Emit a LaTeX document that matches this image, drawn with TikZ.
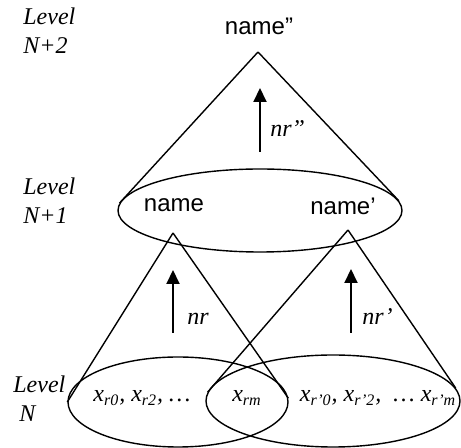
\documentclass[tikz,border=0pt]{standalone}
\usepackage{fontspec}
\setmainfont{Liberation Serif}
\setsansfont{Liberation Sans}
\usetikzlibrary{shapes.geometric, arrows.meta}

\begin{document}
\begin{tikzpicture}[
  x=0.5pt, y=-0.5pt,
  ring/.style={ellipse, draw=black, line width=0.7pt, inner sep=0pt},
  cone/.style={line width=0.7pt},
  arr/.style={-{Triangle[length=7pt, width=6.5pt]}, line width=1pt},
  nm/.style={font=\sffamily\fontsize{12}{14}\selectfont, inner sep=0pt},
  lbl/.style={font=\itshape\fontsize{12}{14}\selectfont, inner sep=0pt},
  lvl/.style={font=\itshape\fontsize{12}{14.5}\selectfont, align=left,
              inner sep=0pt, anchor=north west}
]
\useasboundingbox (0,0) rectangle (461,448);

% level N+2
\node[lvl] (lv2) at (23,7) {Level\\N+2};
\node[nm, anchor=base] (top) at (259,35) {name”};
\coordinate (apex) at (258,52);

% level N+1
\node[lvl] (lv1) at (23,177) {Level\\N+1};
\node[ring, minimum width=142pt, minimum height=41.5pt] (mid) at (260,210.5) {};
\node[nm, anchor=base] (nm)  at (174,212) {name};
\node[nm, anchor=base] (nmp) at (343,215) {name’};
\coordinate (apexl) at (173,233);
\coordinate (apexr) at (348,230);

\draw[cone] (apex) -- (mid.177);
\draw[cone] (apex) -- (mid.4);

\coordinate (u2) at (260,152);
\coordinate (t2) at (260,88);
\draw[arr] (u2) -- (t2);
\node[lbl, anchor=base west] (nr2) at (270,137) {nr”};

% level N
\node[lvl] (lv0) at (13,375) {Level\\\hspace*{3pt}N};
\node[ring, minimum width=110pt, minimum height=45pt] (lft) at (178,402) {};
\node[ring, minimum width=127pt, minimum height=46pt] (rgt) at (333,401) {};

\draw[cone] (apexl) -- (lft.west);
\draw[cone] (apexl) -- (lft.2);
\draw[cone] (apexr) -- (rgt.176);
\draw[cone] (apexr) -- (rgt.6);

\coordinate (u0) at (173,333);
\coordinate (t0) at (173,270);
\draw[arr] (u0) -- (t0);
\node[lbl, anchor=base west] (nr0) at (187,325) {nr};

\coordinate (u1) at (351,333);
\coordinate (t1) at (351,269);
\draw[arr] (u1) -- (t1);
\node[lbl, anchor=base west] (nr1) at (362,325) {nr’};

\node[lbl, anchor=base] (xl) at (142,402) {x\textsubscript{r0}, x\textsubscript{r2}, …};
\node[lbl, anchor=base] (xm) at (247,402) {x\textsubscript{rm}};
\node[lbl, anchor=base] (xr) at (378,402) {x\textsubscript{r’0}, x\textsubscript{r’2}, \ … x\textsubscript{r’m}};
\end{tikzpicture}
\end{document}
